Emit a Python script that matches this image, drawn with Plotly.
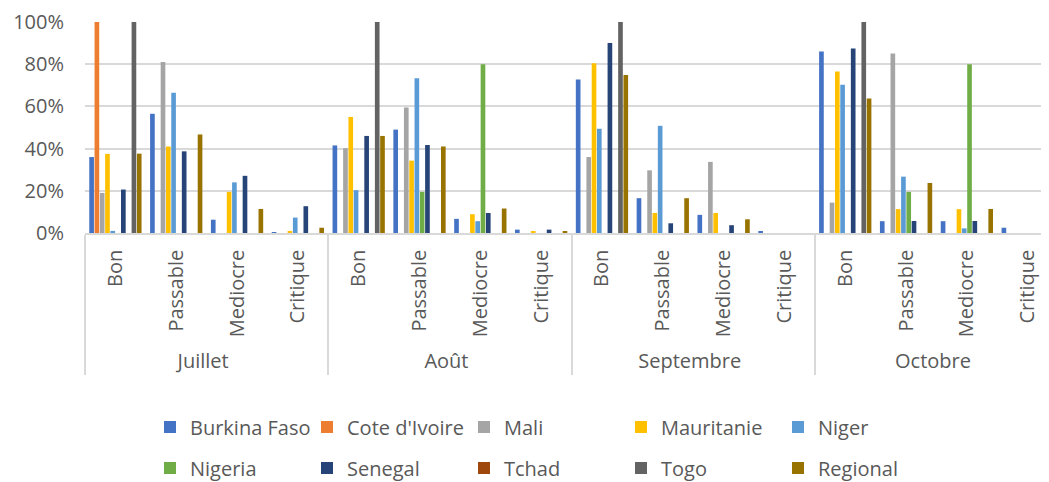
import plotly.graph_objects as go

months = ["Juillet", "Août", "Septembre", "Octobre"]
conditions = ["Bon", "Passable", "Mediocre", "Critique"]

series_names = ["Burkina Faso", "Cote d'Ivoire", "Mali", "Mauritanie", "Niger",
                "Nigeria", "Senegal", "Tchad", "Togo", "Regional"]

# values in %, order: Juillet(Bon,Passable,Mediocre,Critique), Août(...), Septembre(...), Octobre(...)
burkina_faso = [36, 56.5, 6.3, 0.3, 41.5, 49, 6.7, 1.6, 72.7, 16.5, 8.6, 0.5, 86, 5.6, 5.6, 2.5]
cote_divoire = [100, 0, 0, 0, 0, 0, 0, 0, 0, 0, 0, 0, 0, 0, 0, 0]
mali = [19, 81, 0, 0, 40.2, 59.5, 0, 0, 36, 29.7, 33.7, 0, 14.4, 85.1, 0, 0]
mauritanie = [37.5, 41, 19.5, 1, 55, 34.3, 8.9, 0.6, 80.5, 9.5, 9.5, 0, 76.5, 11.3, 11.3, 0]
niger = [1, 66.5, 24, 7.3, 20.3, 73.3, 5.6, 0, 49.4, 50.8, 0, 0, 70.3, 26.7, 2.2, 0]
nigeria = [0, 0, 0, 0, 0, 19.5, 80, 0, 0, 0, 0, 0, 0, 19.5, 80, 0]
senegal = [20.6, 38.7, 27.1, 12.7, 46, 41.7, 9.5, 1.6, 90, 4.6, 3.7, 0, 87.5, 5.7, 5.7, 0]
tchad = [0] * 16
togo = [100, 0, 0, 0, 100, 0, 0, 0, 100, 0, 0, 0, 100, 0, 0, 0]
regional = [37.6, 46.7, 11.4, 2.5, 46, 41, 11.6, 0.6, 74.9, 16.5, 6.5, 0, 63.8, 23.7, 11.4, 0]

y_tick_values = [0, 20, 40, 60, 80, 100]
y_tick_labels = ["0%", "20%", "40%", "60%", "80%", "100%"]

series_values = [burkina_faso, cote_divoire, mali, mauritanie, niger,
                 nigeria, senegal, tchad, togo, regional]
colors = ["#4472C4", "#ED7D31", "#A5A5A5", "#FFC000", "#5B9BD5",
          "#70AD47", "#264478", "#9E480E", "#636363", "#997300"]

x_outer = [m for m in months for _ in conditions]
x_inner = [c for _ in months for c in conditions]

fig = go.Figure()
for i, (name, vals, col) in enumerate(zip(series_names, series_values, colors)):
    fig.add_trace(go.Bar(
        x=[x_outer, x_inner], y=vals, name=name,
        marker=dict(color=col, line=dict(width=0)),
        legend="legend" if i < 5 else "legend2",
    ))

font_txt = "'Open Sans', sans-serif"
grey = "#595959"

# the page body adds an 8px margin, so the figure is 8px smaller than the window
W, H = 1041, 474

legend_common = dict(
    orientation="h", xref="container", yref="container",
    xanchor="left", yanchor="middle",
    entrywidth=112, entrywidthmode="pixels",
    font=dict(family=font_txt, size=20, color=grey),
    bgcolor="rgba(0,0,0,0)", itemclick=False, itemwidth=30,
    tracegroupgap=0,
)

fig.update_layout(
    width=W, height=H,
    margin=dict(l=77, r=0, t=14, b=249),
    plot_bgcolor="white", paper_bgcolor="white",
    barmode="group", bargap=0.13, bargroupgap=0.12,
    showlegend=True,
    legend=dict(x=142 / W, y=55 / H, **legend_common),
    legend2=dict(x=142 / W, y=14 / H, **legend_common),
    font=dict(family=font_txt, color=grey),
)

fig.update_yaxes(
    range=[0, 100], tickmode="array", tickvals=y_tick_values, ticktext=y_tick_labels,
    showgrid=True, gridcolor="#D9D9D9", gridwidth=1.5, zeroline=False,
    tickfont=dict(family=font_txt, size=20, color=grey),
    ticks="", showline=False, automargin=False, ticklabelstandoff=20,
)
fig.update_xaxes(
    type="multicategory", range=[-0.5, 15.35],
    tickangle=-90, tickfont=dict(family=font_txt, size=20, color=grey),
    showline=True, linecolor="#D9D9D9", linewidth=1.5,
    showdividers=True, dividercolor="#D9D9D9", dividerwidth=1.5,
    ticks="", showgrid=False, automargin=False, ticklabelstandoff=7,
)

fig.write_html("out.html")
